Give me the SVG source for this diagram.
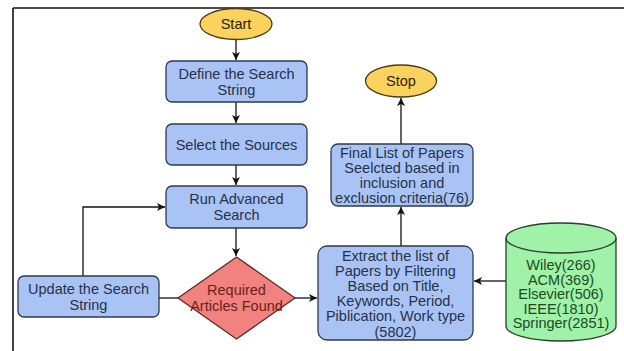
<svg xmlns="http://www.w3.org/2000/svg" width="624" height="351" viewBox="0 0 624 351">
<style>
text{font-family:"Liberation Sans",Arial,sans-serif;font-size:14.5px;text-anchor:middle;dominant-baseline:central}
.box{fill:#a9c4f4;stroke:#2e3a4e;stroke-width:1.3}
.bt{fill:#26314a}
.term{fill:#fbd25e;stroke:#4a3c12;stroke-width:1.3}
.tt{fill:#2a2208}
.dia{fill:#f2827d;stroke:#5a2a2a;stroke-width:1.3}
.dt{fill:#6a1f1f}
.cyl{fill:#9ff2a8;stroke:#2a3f2c;stroke-width:1.3}
.ct{fill:#1d4a22}
.edge{fill:none;stroke:#111;stroke-width:1.3}
</style>
<defs>
<marker id="arr" markerWidth="10" markerHeight="10" refX="8" refY="5" orient="auto" markerUnits="userSpaceOnUse">
<path d="M0,1 L8,5 L0,9 L2,5 Z" fill="#111"/>
</marker>
</defs>
<rect x="0" y="0" width="624" height="351" fill="#fff"/>
<g id="frame">
<line x1="13" y1="8" x2="624" y2="8" stroke="#111" stroke-width="1.6"/>
<line x1="13" y1="8" x2="13" y2="351" stroke="#111" stroke-width="1.6"/>
</g>
<g id="connectors">
<line class="edge" x1="236" y1="40" x2="236" y2="60" marker-end="url(#arr)"/>
<line class="edge" x1="236" y1="102" x2="236" y2="123" marker-end="url(#arr)"/>
<line class="edge" x1="236" y1="165" x2="236" y2="185" marker-end="url(#arr)"/>
<line class="edge" x1="236" y1="228" x2="236" y2="256" marker-end="url(#arr)"/>
<polyline class="edge" points="83,276 83,207 165,207" marker-end="url(#arr)"/>
<line class="edge" x1="159" y1="298" x2="178" y2="298"/>
<line class="edge" x1="295" y1="298" x2="317" y2="298" marker-end="url(#arr)"/>
<line class="edge" x1="506" y1="281" x2="474" y2="281" marker-end="url(#arr)"/>
<line class="edge" x1="401" y1="246" x2="401" y2="207" marker-end="url(#arr)"/>
<line class="edge" x1="401" y1="144" x2="401" y2="98" marker-end="url(#arr)"/>
</g>
<g id="start">
<ellipse class="term" cx="236" cy="24" rx="36" ry="15.5"/>
<text class="tt" x="236" y="24">Start</text>
</g>
<g id="define">
<rect class="box" x="166" y="61" width="141" height="41" rx="6"/>
<text class="bt" x="236.5" y="73.5">Define the Search</text>
<text class="bt" x="236.5" y="89.5">String</text>
</g>
<g id="select">
<rect class="box" x="166" y="124" width="141" height="41" rx="6"/>
<text class="bt" x="236.5" y="144.5">Select the Sources</text>
</g>
<g id="run">
<rect class="box" x="166" y="186" width="141" height="42" rx="6"/>
<text class="bt" x="236.5" y="199">Run Advanced</text>
<text class="bt" x="236.5" y="215">Search</text>
</g>
<g id="decision">
<polygon class="dia" points="236.5,257 295,298 236.5,339 178,298"/>
<text class="dt" x="236.5" y="290">Required</text>
<text class="dt" x="236.5" y="306">Articles Found</text>
</g>
<g id="update">
<rect class="box" x="18" y="276" width="141" height="41" rx="6"/>
<text class="bt" x="88.5" y="288.5">Update the Search</text>
<text class="bt" x="88.5" y="304.5">String</text>
</g>
<g id="extract">
<rect class="box" x="318" y="246" width="155" height="94" rx="9"/>
<text class="bt" x="395.5" y="255.5">Extract the list of</text>
<text class="bt" x="395.5" y="270.7">Papers by Filtering</text>
<text class="bt" x="395.5" y="285.9">Based on Title,</text>
<text class="bt" x="395.5" y="301.1">Keywords, Period,</text>
<text class="bt" x="395.5" y="316.3">Piblication, Work type</text>
<text class="bt" x="395.5" y="331.5">(5802)</text>
</g>
<g id="final">
<rect class="box" x="331" y="144" width="142" height="62" rx="7"/>
<text class="bt" x="402" y="153">Final List of Papers</text>
<text class="bt" x="402" y="168">Seelcted based in</text>
<text class="bt" x="402" y="183">inclusion and</text>
<text class="bt" x="402" y="198">exclusion criteria(76)</text>
</g>
<g id="stop">
<ellipse class="term" cx="401" cy="81" rx="35.5" ry="16"/>
<text class="tt" x="401" y="81">Stop</text>
</g>
<g id="sources">
<path class="cyl" d="M506,238 A55,15 0 0 1 616,238 L616,326 A55,15 0 0 1 506,326 Z"/>
<path class="edge" d="M506,238 A55,15 0 0 0 616,238" style="stroke:#2a3f2c"/>
<text class="ct" x="561" y="265">Wiley(266)</text>
<text class="ct" x="561" y="279.5">ACM(369)</text>
<text class="ct" x="561" y="294">Elsevier(506)</text>
<text class="ct" x="561" y="308.5">IEEE(1810)</text>
<text class="ct" x="561" y="323">Springer(2851)</text>
</g>
</svg>
